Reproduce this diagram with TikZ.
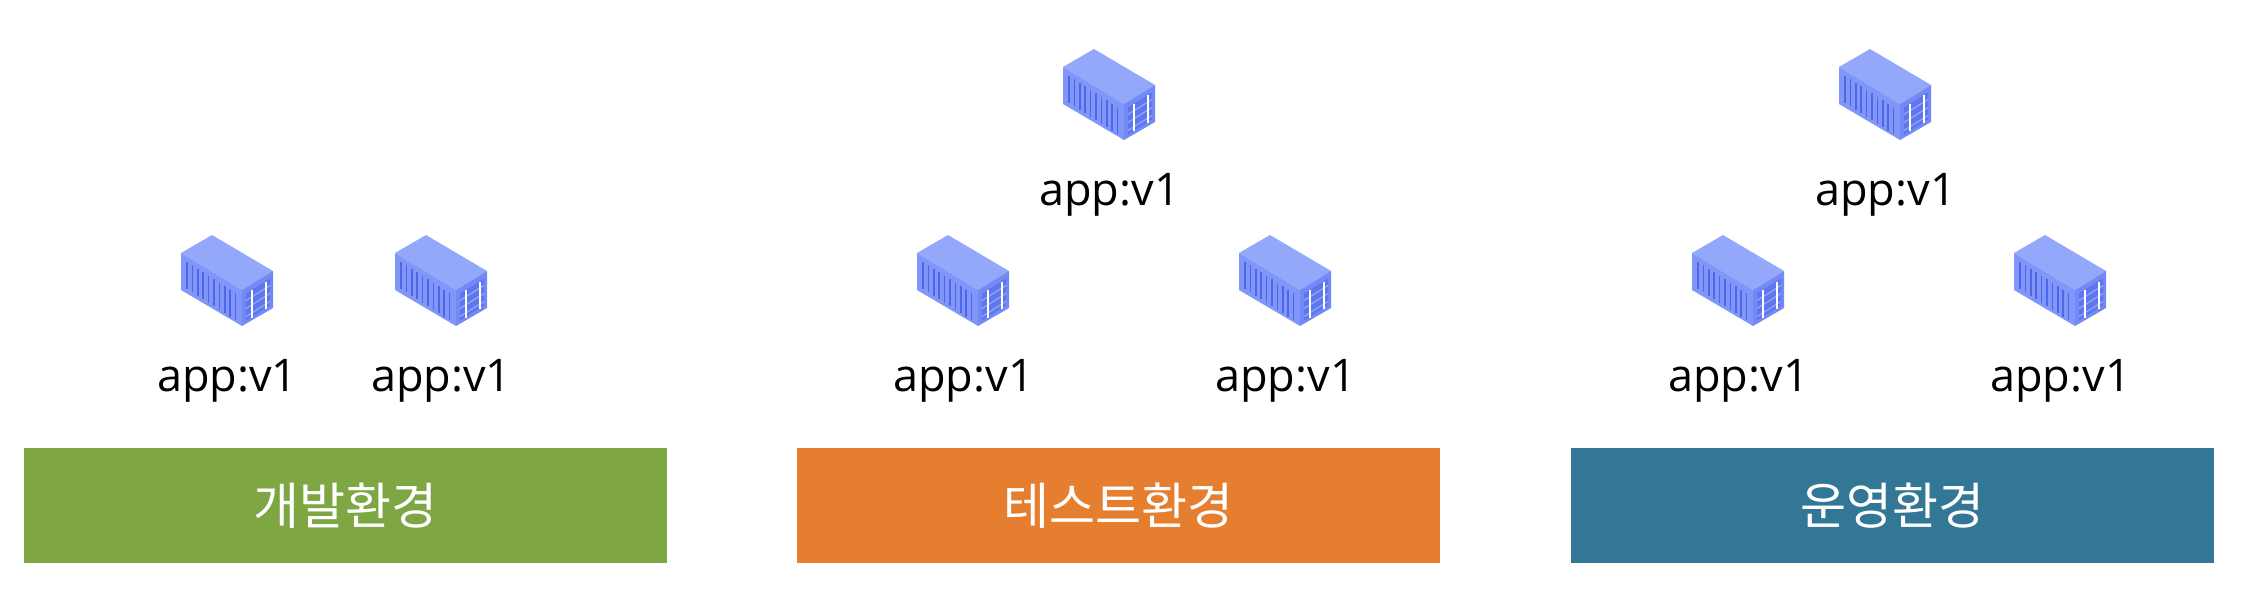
\documentclass[tikz,border=0pt]{standalone}
\usepackage{fontspec}
\setmainfont{Open Sans}
\newfontfamily\korean{Noto Sans CJK KR}
\usetikzlibrary{positioning}
\definecolor{devgreen}{HTML}{7EA744}
\definecolor{testorange}{HTML}{E57E2F}
\definecolor{opsblue}{HTML}{337796}
\definecolor{boxtop}{HTML}{93A8FA}
\definecolor{boxside}{HTML}{8096F8}
\definecolor{boxrib}{HTML}{4F66E8}
\definecolor{boxend}{HTML}{7389F5}
\definecolor{boxdoor}{HTML}{5F76EE}
\definecolor{boxbar}{HTML}{8DA2FA}
\tikzset{
  container/.pic={
    \fill [boxtop] (-15,-45.5) -- (46,-9.5) -- (15,9.5) -- (-46,-27.5) -- cycle;
    \fill [boxside] (-46,-27.5) -- (15,9.5) -- (15,45.5) -- (-46,9.5) -- cycle;
    \fill [boxend] (15,9.5) -- (46,-9.5) -- (46,27.5) -- (15,45.5) -- cycle;
    \foreach \x in {0,...,9} {
      \draw [boxrib,line width=1.5pt] (-40+5.4*\x,-18.5+3.48*\x) -- ++(0,27);
    }
    % end doors
    \fill [boxdoor] (19,13) -- (43,-2) -- (43,25) -- (19,40) -- cycle;
    \foreach \y in {0,8,16} {
      \draw [boxbar,line width=1.4pt] (19,20+\y) -- (43,5+\y);
    }
    \draw [white,line width=2pt] (25,9.5) -- (25,37);
    \draw [white,line width=2pt] (38.5,1) -- (38.5,28.5);
  }
}
\begin{document}
\begin{tikzpicture}[x=1pt,y=-1pt]
  \tikzstyle{envbox}=[rectangle,minimum width=643pt,minimum height=115pt,inner sep=0pt,text=white,font=\korean\fontsize{50}{60}\selectfont]
  \tikzstyle{app}=[inner sep=0pt,font=\fontsize{45}{54}\selectfont]
  \useasboundingbox (0,0) rectangle (2252,596);

  \node [envbox,fill=testorange] (test) at (1118.5,505.5) {테스트환경};
  \node [envbox,fill=devgreen,left = 130pt of test] (dev) {개발환경};
  \node [envbox,fill=opsblue,right = 131pt of test] (ops) {운영환경};

  \node [app] (dev1) at (227.5,381) {app:v1};
  \node [app] (dev2) at (441.5,381) {app:v1};
  \node [app] (test1) at (963.5,381) {app:v1};
  \node [app] (test2) at (1285.5,381) {app:v1};
  \node [app] (test3) at (1109.5,195) {app:v1};
  \node [app] (ops1) at (1738.5,381) {app:v1};
  \node [app] (ops2) at (2060.5,381) {app:v1};
  \node [app] (ops3) at (1885.5,195) {app:v1};

  \foreach \n in {dev1,dev2,test1,test2,test3,ops1,ops2,ops3} {
    \pic at ([xshift=-0.5pt,yshift=100.5pt]\n.center) {container};
  }
\end{tikzpicture}
\end{document}
